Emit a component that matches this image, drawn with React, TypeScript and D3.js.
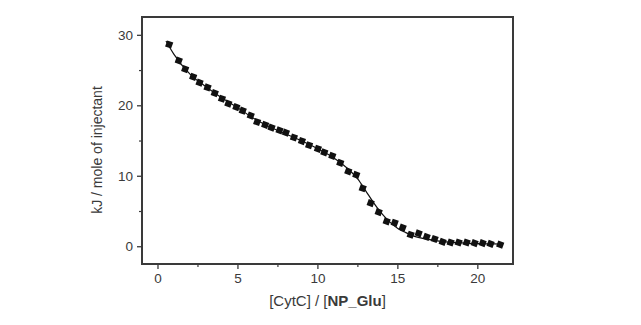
import React from 'react'
import * as d3 from 'd3'

// measured points: [CytC]/[NP_Glu] ratio vs heat per mole of injectant
const ratio = [
    0.7, 1.3, 1.7, 2.2, 2.6, 3.1, 3.55, 4.0, 4.4, 4.9, 5.3, 5.8, 6.2, 6.7, 7.1,
    7.6, 8.0, 8.5, 9.0, 9.45, 10.0, 10.4, 10.9, 11.4, 11.9, 12.4, 12.8, 13.3,
    13.8, 14.3, 14.8, 15.3, 15.8, 16.3, 16.8, 17.3, 17.8, 18.3, 18.8, 19.3,
    19.8, 20.3, 20.8, 21.4,
]
const heat = [
    28.7, 26.4, 25.2, 24.1, 23.3, 22.6, 21.8, 21.0, 20.3, 19.8, 19.3, 18.6, 17.7,
    17.3, 16.9, 16.5, 16.2, 15.5, 15.0, 14.4, 13.9, 13.4, 12.9, 11.9, 10.7, 10.2,
    8.3, 6.2, 4.9, 3.6, 3.4, 2.7, 1.7, 1.9, 1.4, 1.1, 0.7, 0.6, 0.6, 0.6, 0.5,
    0.5, 0.4, 0.3,
]

// fitted curve
const fitX = [0.5, 1, 2, 3, 4, 5, 6, 7, 8, 9, 10, 11, 12, 12.5, 13, 13.5, 14, 14.5, 15, 15.5, 16, 17, 18, 19, 20, 21, 21.5]
const fitY = [29.2, 27.3, 24.5, 22.7, 21.1, 19.7, 18.2, 17.0, 16.0, 15.0, 13.9, 12.6, 10.8, 9.6, 7.9, 6.2, 4.7, 3.5, 2.6, 2.0, 1.5, 1.0, 0.7, 0.55, 0.45, 0.4, 0.38]

const xTicks = [0, 5, 10, 15, 20]
const xMinor = [2.5, 7.5, 12.5, 17.5]
const yTicks = [0, 10, 20, 30]
const yMinor = [5, 15, 25]

const W = 641
const H = 325
const left = 142
const right = 513
const top = 17
const bottom = 264
const ink = '#3a3a3a'
const font = 'Liberation Sans, Arial, sans-serif'

const App = () => {
    const x = d3.scaleLinear().domain([-1, 22.2]).range([left, right])
    const y = d3.scaleLinear().domain([-2.45, 32.6]).range([bottom, top])

    const line = d3.line<number>()
        .x((_, i) => x(fitX[i]))
        .y(d => y(d))
        .curve(d3.curveMonotoneX)

    return (
        <svg width={W} height={H} style={{ position: 'absolute', left: 0, top: 0 }}>
            <rect width={W} height={H} fill="#fff" />
            <path d={line(fitY)!} fill="none" stroke="#111" strokeWidth={1.2} />
            {heat.map((v, i) => (
                <rect key={i} x={x(ratio[i]) - 3.2} y={y(v) - 3.2} width={6.4} height={6.4}
                    fill="#111" transform={`rotate(20 ${x(ratio[i])} ${y(v)})`} />
            ))}
            <rect x={left} y={top} width={right - left} height={bottom - top}
                fill="none" stroke={ink} strokeWidth={2} />
            {xTicks.map(t => (
                <g key={t}>
                    <line x1={x(t)} x2={x(t)} y1={bottom} y2={bottom + 5} stroke={ink} strokeWidth={1.3} />
                    <text x={x(t)} y={bottom + 19} textAnchor="middle" fontFamily={font} fontSize={13.5} fill={ink}>{t}</text>
                </g>
            ))}
            {xMinor.map(t => (
                <line key={t} x1={x(t)} x2={x(t)} y1={bottom} y2={bottom + 3} stroke={ink} strokeWidth={1.2} />
            ))}
            {yTicks.map(t => (
                <g key={t}>
                    <line x1={left - 5} x2={left} y1={y(t)} y2={y(t)} stroke={ink} strokeWidth={1.3} />
                    <text x={left - 9} y={y(t) + 4.5} textAnchor="end" fontFamily={font} fontSize={13.5} fill={ink}>{t}</text>
                </g>
            ))}
            {yMinor.map(t => (
                <line key={t} x1={left - 3} x2={left} y1={y(t)} y2={y(t)} stroke={ink} strokeWidth={1.2} />
            ))}
            <text x={(left + right) / 2} y={306} textAnchor="middle" fontFamily={font} fontSize={15} fill={ink}>
                [CytC] / [<tspan fontWeight="bold">NP_Glu</tspan>]
            </text>
            <text transform="translate(102, 150) rotate(-90)" textAnchor="middle"
                fontFamily={font} fontSize={14} fill={ink}>kJ / mole of injectant</text>
        </svg>
    )
}

export default App
